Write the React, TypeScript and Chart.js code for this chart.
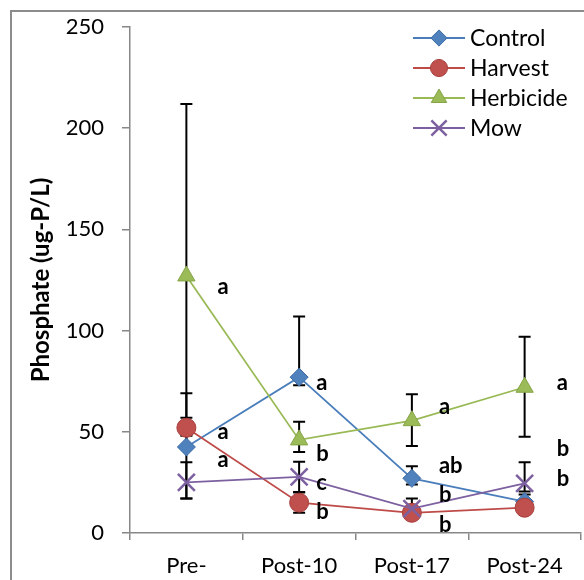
import React, { useEffect, useRef } from 'react';
import { Chart, registerables } from 'chart.js';

Chart.register(...registerables);

const categories = ['Pre-', 'Post-10', 'Post-17', 'Post-24'];
const seriesNames = ['Control', 'Harvest', 'Herbicide', 'Mow'];

const controlValues = [42.5, 77, 27, 15.5];
const harvestValues = [52, 15, 10, 12.5];
const herbicideValues = [127, 46, 55.5, 72];
const mowValues = [25, 27.7, 12, 24.5];

const controlErrPlus = [26.5, 30, 6, 3.5];
const controlErrMinus = [25.5, 4, 3, 3];
const harvestErrPlus = [5, 5, 3, 3];
const harvestErrMinus = [4, 5, 3, 3];
const herbicideErrPlus = [85, 9, 13, 25];
const herbicideErrMinus = [85, 6, 12.5, 24.5];
const mowErrPlus = [10, 7.5, 5, 10.5];
const mowErrMinus = [8, 7.5, 3, 4];

const yTicks = [0, 50, 100, 150, 200, 250];

const letterCategory = [0, 0, 0, 1, 1, 1, 1, 2, 2, 2, 2, 3, 3, 3];
const letterValue = [121.7, 50, 36.2, 74.3, 39, 24.6, 10.5, 62.1, 33.1, 18.8, 4, 74.3, 41.4, 26.5];
const letterText = ['a', 'a', 'a', 'a', 'b', 'c', 'b', 'a', 'ab', 'b', 'b', 'a', 'b', 'b'];

const FONT = 'Lato, "Noto Sans", sans-serif';
const AXIS_GRAY = '#878787';

const styles = [
  { line: '#4A7EBB', fill: '#4F81BD', border: '#3D6CA6', pointStyle: 'rectRot', radius: 9, order: 4 },
  { line: '#BE4B48', fill: '#C0504D', border: '#A8403D', pointStyle: 'circle', radius: 9.5, order: 3 },
  { line: '#98B954', fill: '#9BBB59', border: '#86A546', pointStyle: 'triangle', radius: 10, order: 2 },
  { line: '#7D60A0', fill: '#8064A2', border: '#7D60A0', pointStyle: 'crossRot', radius: 12, order: 1 },
];

const seriesValues = [controlValues, harvestValues, herbicideValues, mowValues];
const seriesPlus = [controlErrPlus, harvestErrPlus, herbicideErrPlus, mowErrPlus];
const seriesMinus = [controlErrMinus, harvestErrMinus, herbicideErrMinus, mowErrMinus];

function drawMarker(ctx: CanvasRenderingContext2D, style: string, x: number, y: number, r: number, fill: string, border: string) {
  ctx.save();
  ctx.beginPath();
  if (style === 'rectRot') {
    ctx.moveTo(x, y - r);
    ctx.lineTo(x + r, y);
    ctx.lineTo(x, y + r);
    ctx.lineTo(x - r, y);
    ctx.closePath();
    ctx.fillStyle = fill;
    ctx.fill();
    ctx.strokeStyle = border;
    ctx.lineWidth = 1;
    ctx.stroke();
  } else if (style === 'circle') {
    ctx.arc(x, y, r, 0, Math.PI * 2);
    ctx.fillStyle = fill;
    ctx.fill();
    ctx.strokeStyle = border;
    ctx.lineWidth = 1;
    ctx.stroke();
  } else if (style === 'triangle') {
    const h = r * 0.866;
    ctx.moveTo(x, y - r);
    ctx.lineTo(x + h, y + r / 2);
    ctx.lineTo(x - h, y + r / 2);
    ctx.closePath();
    ctx.fillStyle = fill;
    ctx.fill();
    ctx.strokeStyle = border;
    ctx.lineWidth = 1;
    ctx.stroke();
  } else {
    const d = r * Math.SQRT1_2;
    ctx.moveTo(x - d, y - d);
    ctx.lineTo(x + d, y + d);
    ctx.moveTo(x + d, y - d);
    ctx.lineTo(x - d, y + d);
    ctx.strokeStyle = border;
    ctx.lineWidth = 2.5;
    ctx.stroke();
  }
  ctx.restore();
}

const framePlugin = {
  id: 'frame',
  beforeDraw(chart: any) {
    const ctx = chart.ctx;
    ctx.save();
    ctx.fillStyle = '#ffffff';
    ctx.fillRect(0, 0, chart.width, chart.height);
    ctx.strokeStyle = '#8c8c8c';
    ctx.lineWidth = 2;
    ctx.strokeRect(11, 11, chart.width + 50, chart.height + 50);
    ctx.restore();
  },
};

const errorBarPlugin = {
  id: 'errorBars',
  beforeDatasetsDraw(chart: any) {
    const ctx = chart.ctx;
    const xs = chart.scales.x;
    const ys = chart.scales.y;
    ctx.save();
    ctx.strokeStyle = '#000000';
    ctx.lineWidth = 2;
    seriesValues.forEach((vals, s) => {
      vals.forEach((v, i) => {
        const x = xs.getPixelForValue(i);
        const yTop = ys.getPixelForValue(v + seriesPlus[s][i]);
        const yBot = ys.getPixelForValue(v - seriesMinus[s][i]);
        ctx.beginPath();
        ctx.moveTo(x, yTop);
        ctx.lineTo(x, yBot);
        ctx.moveTo(x - 6, yTop);
        ctx.lineTo(x + 6, yTop);
        ctx.moveTo(x - 6, yBot);
        ctx.lineTo(x + 6, yBot);
        ctx.stroke();
      });
    });
    ctx.restore();
  },
};

const letterPlugin = {
  id: 'letters',
  afterDatasetsDraw(chart: any) {
    const ctx = chart.ctx;
    const xs = chart.scales.x;
    const ys = chart.scales.y;
    const dx = [31, 17, 27, 32];
    ctx.save();
    ctx.fillStyle = '#000000';
    ctx.font = 'bold 22px ' + FONT;
    ctx.textAlign = 'left';
    ctx.textBaseline = 'middle';
    letterText.forEach((t, k) => {
      const c = letterCategory[k];
      ctx.fillText(t, xs.getPixelForValue(c) + dx[c], ys.getPixelForValue(letterValue[k]));
    });
    ctx.restore();
  },
};

const legendPlugin = {
  id: 'customLegend',
  afterDraw(chart: any) {
    const ctx = chart.ctx;
    ctx.save();
    seriesNames.forEach((name, i) => {
      const st = styles[i];
      const y = 38 + i * 30;
      ctx.beginPath();
      ctx.moveTo(413, y);
      ctx.lineTo(465, y);
      ctx.strokeStyle = st.line;
      ctx.lineWidth = 2;
      ctx.stroke();
      drawMarker(ctx, st.pointStyle, 439, y, st.radius * 0.9, st.fill, st.border);
      ctx.fillStyle = '#000000';
      ctx.font = '23px ' + FONT;
      ctx.textAlign = 'left';
      ctx.textBaseline = 'middle';
      ctx.fillText(name, 470, y + 1);
    });
    ctx.restore();
  },
};

export default function App() {
  const canvasRef = useRef<HTMLCanvasElement | null>(null);

  useEffect(() => {
    const canvas = canvasRef.current;
    if (!canvas) return;
    const chart = new Chart(canvas, {
      type: 'line',
      data: {
        labels: categories,
        datasets: seriesNames.map((name, i) => ({
          label: name,
          data: seriesValues[i],
          borderColor: styles[i].line,
          backgroundColor: styles[i].fill,
          borderWidth: 1.75,
          pointStyle: styles[i].pointStyle as any,
          pointRadius: styles[i].radius,
          pointBackgroundColor: styles[i].fill,
          pointBorderColor: styles[i].border,
          pointBorderWidth: i === 3 ? 2.5 : 1,
          tension: 0,
          fill: false,
          clip: false,
          order: styles[i].order,
        })),
      },
      options: {
        responsive: false,
        animation: false,
        events: [],
        layout: { autoPadding: false, padding: { top: 27, left: 0, right: 3, bottom: 0 } },
        plugins: {
          legend: { display: false },
          tooltip: { enabled: false },
        },
        scales: {
          x: {
            type: 'category',
            offset: true,
            grid: {
              offset: true,
              drawOnChartArea: false,
              drawTicks: true,
              tickLength: 7,
              color: AXIS_GRAY,
              lineWidth: 1.5,
            },
            border: { display: true, color: AXIS_GRAY, width: 1.5 },
            ticks: {
              color: '#000000',
              font: { family: FONT, size: 22 },
              padding: 13,
              maxRotation: 0,
              autoSkip: false,
            },
            afterFit(scale: any) {
              scale.height = 47;
              scale.paddingLeft = 0;
              scale.paddingRight = 0;
            },
          },
          y: {
            min: 0,
            max: 250,
            afterBuildTicks(scale: any) {
              scale.ticks = yTicks.map((v) => ({ value: v }));
            },
            grid: {
              drawOnChartArea: false,
              drawTicks: true,
              tickLength: 8,
              color: AXIS_GRAY,
              lineWidth: 1.5,
            },
            border: { display: true, color: AXIS_GRAY, width: 1.5 },
            ticks: {
              color: '#000000',
              font: { family: FONT, size: 22 },
              padding: 18,
            },
            title: {
              display: true,
              text: 'Phosphate (ug-P/L)',
              color: '#000000',
              font: { family: FONT, size: 24, weight: 'bold' },
              padding: { top: 27, bottom: 0 },
            },
            afterFit(scale: any) {
              scale.width = 130;
              scale.paddingTop = 0;
              scale.paddingBottom = 0;
            },
          },
        },
      } as any,
      plugins: [framePlugin, errorBarPlugin, letterPlugin, legendPlugin],
    });
    return () => chart.destroy();
  }, []);

  return (
    <div style={{ position: 'fixed', left: 0, top: 0, width: 584, height: 580, overflow: 'hidden' }}>
      <canvas ref={canvasRef} width={584} height={580} style={{ display: 'block', width: 584, height: 580 }} />
    </div>
  );
}
